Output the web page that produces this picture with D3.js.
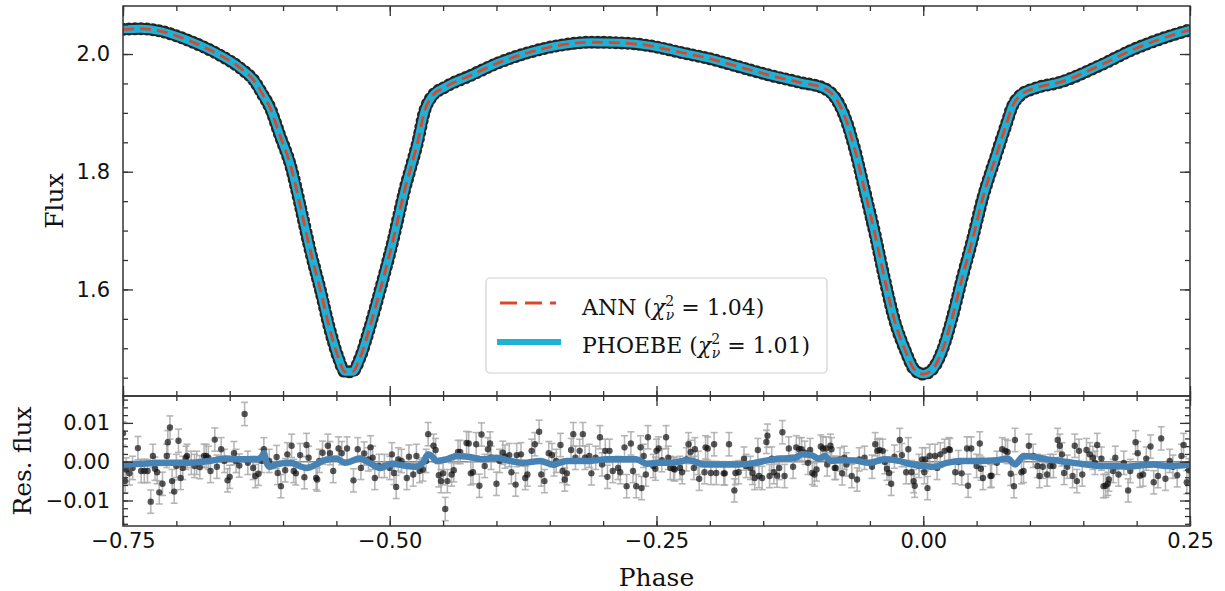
<!DOCTYPE html>
<html>
<head>
<meta charset="utf-8">
<script src="https://cdn.jsdelivr.net/npm/d3@7"></script>
<style>
  body { margin: 0; background: #fff; }
  text { fill: #111; }
</style>
</head>
<body>
<div id="chart"></div>
<script>
// light curve model (PHOEBE and ANN overlap)
var modelPhase = [-0.750,-0.734,-0.715,-0.697,-0.678,-0.659,-0.640,-0.626,-0.620,-0.612,-0.603,-0.593,-0.584,-0.575,-0.565,-0.556,-0.548,-0.542,-0.535,-0.528,-0.519,-0.509,-0.498,-0.486,-0.474,-0.467,-0.460,-0.448,-0.425,-0.397,-0.369,-0.340,-0.312,-0.284,-0.256,-0.228,-0.200,-0.172,-0.144,-0.116,-0.092,-0.083,-0.073,-0.064,-0.055,-0.045,-0.036,-0.027,-0.017,-0.008,0.000,0.008,0.018,0.027,0.036,0.046,0.056,0.067,0.077,0.084,0.091,0.105,0.128,0.166,0.197,0.228,0.250];
var modelFlux = [2.042,2.043,2.039,2.029,2.015,1.998,1.976,1.952,1.934,1.908,1.862,1.811,1.743,1.670,1.599,1.531,1.483,1.460,1.460,1.483,1.534,1.599,1.675,1.769,1.849,1.905,1.929,1.944,1.963,1.986,2.003,2.015,2.020,2.019,2.014,2.003,1.992,1.978,1.964,1.952,1.941,1.927,1.891,1.837,1.769,1.692,1.616,1.548,1.497,1.463,1.456,1.463,1.497,1.551,1.616,1.684,1.757,1.820,1.876,1.913,1.930,1.942,1.952,1.981,2.008,2.029,2.041];

// residual points (flux units of 1e-3)
var resPhase = [-0.750,-0.748,-0.747,-0.744,-0.741,-0.736,-0.733,-0.730,-0.727,-0.724,-0.722,-0.720,-0.718,-0.716,-0.713,-0.709,-0.708,-0.706,-0.704,-0.702,-0.700,-0.698,-0.696,-0.694,-0.691,-0.690,-0.686,-0.683,-0.681,-0.678,-0.674,-0.672,-0.670,-0.668,-0.664,-0.662,-0.658,-0.655,-0.652,-0.650,-0.646,-0.644,-0.641,-0.636,-0.633,-0.628,-0.626,-0.623,-0.620,-0.618,-0.613,-0.606,-0.605,-0.602,-0.598,-0.596,-0.592,-0.590,-0.588,-0.584,-0.580,-0.578,-0.576,-0.569,-0.568,-0.566,-0.563,-0.558,-0.556,-0.553,-0.548,-0.545,-0.540,-0.534,-0.530,-0.527,-0.524,-0.520,-0.518,-0.516,-0.514,-0.510,-0.505,-0.500,-0.498,
  -0.496,-0.494,-0.492,-0.489,-0.484,-0.482,-0.478,-0.475,-0.472,-0.469,-0.466,-0.464,-0.459,-0.457,-0.454,-0.452,-0.450,-0.448,-0.446,-0.442,-0.440,-0.436,-0.434,-0.428,-0.426,-0.424,-0.422,-0.419,-0.416,-0.414,-0.411,-0.408,-0.406,-0.405,-0.400,-0.397,-0.394,-0.392,-0.388,-0.386,-0.382,-0.381,-0.377,-0.373,-0.371,-0.367,-0.364,-0.360,-0.358,-0.355,-0.351,-0.348,-0.346,-0.344,-0.340,-0.338,-0.336,-0.334,-0.330,-0.328,-0.326,-0.322,-0.319,-0.317,-0.313,-0.311,-0.307,-0.303,-0.301,-0.298,-0.296,-0.294,-0.291,-0.286,-0.284,-0.280,-0.278,-0.274,-0.272,-0.269,-0.265,-0.264,-0.262,-0.260,-0.258,-0.253,-0.250,-0.248,
  -0.251,-0.245,-0.241,-0.239,-0.237,-0.234,-0.233,-0.228,-0.226,-0.222,-0.220,-0.218,-0.215,-0.214,-0.211,-0.210,-0.205,-0.204,-0.202,-0.199,-0.196,-0.194,-0.187,-0.186,-0.182,-0.177,-0.176,-0.173,-0.168,-0.166,-0.162,-0.160,-0.158,-0.155,-0.154,-0.151,-0.147,-0.146,-0.144,-0.142,-0.140,-0.137,-0.135,-0.132,-0.130,-0.126,-0.122,-0.119,-0.116,-0.114,-0.111,-0.108,-0.106,-0.104,-0.102,-0.100,-0.096,-0.094,-0.091,-0.090,-0.087,-0.086,-0.083,-0.082,-0.078,-0.076,-0.074,-0.072,-0.067,-0.062,-0.060,-0.055,-0.048,-0.045,-0.043,-0.041,-0.038,-0.036,-0.034,-0.032,-0.030,-0.027,-0.022,-0.020,-0.016,-0.014,-0.011,-0.009,-0.008,-0.004,-0.001,0.001,
  0.002,0.004,0.006,0.011,0.013,0.016,0.020,0.024,0.025,0.030,0.033,0.036,0.041,0.042,0.045,0.050,0.053,0.054,0.056,0.063,0.064,0.069,0.074,0.077,0.079,0.082,0.085,0.086,0.092,0.094,0.099,0.103,0.107,0.109,0.112,0.116,0.119,0.122,0.126,0.128,0.130,0.132,0.135,0.140,0.142,0.144,0.146,0.149,0.153,0.156,0.159,0.161,0.163,0.167,0.169,0.171,0.173,0.174,0.178,0.180,0.183,0.188,0.192,0.194,0.199,0.201,0.203,0.206,0.209,0.213,0.216,0.220,0.223,0.227,0.231,0.234,0.238,0.242,0.244,0.247,0.249];
var resValue = [7.3,-5.0,-2.0,-3.0,-1.6,3.5,-2.4,-2.4,-2.4,-10.3,1.5,-1.8,-2.7,-7.9,-5.7,1.5,5.0,8.8,-5.0,-7.7,-1.1,5.4,-4.2,-1.6,1.0,1.5,-0.3,-1.1,-0.3,-1.4,1.5,1.5,1.0,-2.4,5.7,-1.3,3.2,0.2,-4.8,-3.9,2.2,0.2,-1.0,12.3,-0.3,-1.6,-3.7,-3.1,0.2,3.2,0.2,1.2,-2.9,-6.3,-2.2,1.9,4.1,-2.4,-3.0,1.7,-4.0,4.3,1.0,-4.2,-4.6,0.2,2.3,4.1,2.2,-2.4,3.4,2.2,3.4,-4.8,3.2,-1.6,2.1,0.6,3.7,1.0,-4.2,-1.1,-1.1,-1.6,1.9,
  -2.9,-6.5,0.6,0.2,-4.2,1.3,-3.3,1.5,-2.4,-2.0,0.2,7.1,4.1,3.0,-3.5,-5.0,-3.0,-12.2,-5.0,-3.3,-2.2,2.5,2.5,4.8,4.7,-3.0,-2.7,4.5,-6.2,7.0,-1.1,3.2,4.7,1.0,-5.7,0.2,2.3,1.3,1.7,-2.7,-5.9,1.7,1.9,-4.2,-3.3,2.8,4.5,7.7,-3.3,-5.0,2.2,1.7,-0.7,0.2,4.3,-2.4,-4.6,-3.0,3.0,7.1,1.0,2.8,7.1,1.0,1.5,-3.0,1.0,6.3,-0.7,2.8,-3.9,2.8,-2.4,-1.6,-2.7,3.7,-6.3,4.7,-2.4,-6.3,3.7,-6.8,1.5,-3.3,6.3,-1.1,2.8,3.4,
  -1.8,0.4,6.3,1.0,-1.6,-1.8,-2.0,-1.6,-2.7,0.6,4.5,2.5,-1.6,3.2,-0.3,-4.4,-2.7,3.7,3.4,-2.9,4.5,-2.9,-3.0,-3.0,4.5,-7.4,-2.9,-2.7,0.8,-1.1,-1.6,-2.9,-4.2,3.0,-3.7,-4.2,5.1,6.7,-3.7,0.8,-2.7,-3.6,-1.6,7.6,-3.7,3.4,-1.3,3.7,3.2,3.2,2.3,-0.3,3.0,-2.9,-3.3,-2.0,3.9,3.4,3.4,-0.7,4.1,3.2,-1.6,-1.6,0.6,-3.0,1.0,-0.7,-3.7,-4.6,0.6,1.0,-1.3,4.5,2.8,3.0,2.8,-0.1,-1.8,-2.9,-5.7,1.3,5.6,1.7,-2.7,3.2,-2.7,-5.0,-6.2,-1.1,0.6,-2.7,
  0.6,-6.8,1.5,1.5,-1.6,1.9,2.8,3.2,3.0,-2.7,-0.1,-3.0,3.4,-6.2,3.4,-1.1,4.7,-1.8,-4.2,-3.7,-3.6,-0.3,3.2,2.8,2.5,-3.1,-6.3,5.6,-2.7,-2.4,4.1,1.5,-1.1,-3.7,-1.3,-3.3,-1.1,-1.1,5.6,4.1,1.9,-2.9,-1.3,-3.7,4.1,-5.0,2.8,-3.3,3.0,1.9,1.0,-0.3,4.3,0.8,-6.3,-6.2,-5.7,-4.6,-2.4,1.0,-3.3,-0.3,-7.4,-2.4,5.0,2.2,-3.6,-3.3,0.8,3.9,-5.3,-3.7,6.0,-4.4,0.2,-1.3,-3.5,1.5,4.3,-5.3,-2.2];
var resError = 3.0;

// smoothed residual trend (1e-3)
var trendPhase = [-0.750,-0.731,-0.709,-0.688,-0.669,-0.653,-0.638,-0.625,-0.620,-0.618,-0.616,-0.613,-0.606,-0.594,-0.578,-0.569,-0.563,-0.550,-0.542,-0.528,-0.519,-0.509,-0.498,-0.487,-0.476,-0.469,-0.464,-0.461,-0.456,-0.447,-0.437,-0.425,-0.412,-0.400,-0.387,-0.375,-0.359,-0.347,-0.334,-0.312,-0.297,-0.281,-0.269,-0.259,-0.247,-0.236,-0.220,-0.205,-0.189,-0.173,-0.158,-0.145,-0.133,-0.120,-0.114,-0.105,-0.098,-0.092,-0.087,-0.076,-0.064,-0.051,-0.036,-0.023,-0.011,0.001,0.010,0.022,0.035,0.053,0.069,0.079,0.086,0.094,0.103,0.116,0.128,0.141,0.153,0.166,0.178,0.191,0.203,0.216,0.228,0.250];
var trendValue = [-0.7,-0.5,-0.3,-0.3,0.2,0.8,0.6,0.6,1.3,2.2,0.2,-1.3,-0.7,-0.3,-1.6,-0.7,0.2,0.8,-0.3,0.8,-0.3,-1.6,-0.5,-1.0,-1.3,-0.3,1.9,1.5,0.2,0.6,1.5,1.2,0.6,1.0,0.2,-0.3,0.2,-0.7,0.2,0.2,0.6,0.6,0.6,-0.5,-0.3,-0.3,0.4,-0.7,-0.7,-0.7,-0.3,0.4,0.8,1.0,1.9,1.7,0.8,1.5,0.2,0.4,0.3,-0.3,0.6,0.2,-0.7,-1.1,-1.3,-0.3,0.2,0.2,0.4,0.8,-0.7,1.5,1.3,0.6,0.2,-0.3,-0.7,-1.1,-1.1,-1.3,-1.0,-0.7,-1.1,-0.7];

var xTicks = [-0.75, -0.50, -0.25, 0.00, 0.25];
var fluxTicks = [1.6, 1.8, 2.0];
var resTicks = [-10, 0, 10];

var W = 1225, H = 591;
var left = 123, right = 1190, top1 = 6, bot1 = 396, bot2 = 526;
var blue = "#1fb1d6", red = "#d9482b", steel = "#4682b4", spine = "#333";

var svg = d3.select("#chart").append("svg")
  .attr("width", W).attr("height", H)
  .style("font-family", "DejaVu Sans");

var x = d3.scaleLinear().domain([-0.75, 0.25]).range([left, right]);
var y1 = d3.scaleLinear().domain([1.4189, 2.0816]).range([bot1, top1]);
var y2 = d3.scaleLinear().domain([-16.57, 16.93]).range([bot2, bot1]);

svg.append("clipPath").attr("id", "c1").append("rect")
  .attr("x", left).attr("y", top1).attr("width", right - left).attr("height", bot1 - top1);
svg.append("clipPath").attr("id", "c2").append("rect")
  .attr("x", left).attr("y", bot1).attr("width", right - left).attr("height", bot2 - bot1);

// ---- top panel ----
var model = d3.zip(modelPhase, modelFlux);
var line1 = d3.line().x(d => x(d[0])).y(d => y1(d[1])).curve(d3.curveMonotoneX);
var g1 = svg.append("g").attr("clip-path", "url(#c1)");

// observed points (beads along the light curve)
g1.append("path").datum(model)
  .attr("fill", "none").attr("stroke", "#0d0d0d").attr("stroke-opacity", 0.9)
  .attr("stroke-width", 13).attr("stroke-linecap", "round")
  .attr("stroke-dasharray", "0 6").attr("d", line1);
// PHOEBE
g1.append("path").datum(model)
  .attr("fill", "none").attr("stroke", blue)
  .attr("stroke-width", 8).attr("stroke-linejoin", "round").attr("d", line1);
// ANN
g1.append("path").datum(model)
  .attr("fill", "none").attr("stroke", red)
  .attr("stroke-width", 2.8).attr("stroke-dasharray", "11,6").attr("d", line1);

// ---- residual panel ----
var res = d3.zip(resPhase, resValue);
var g2 = svg.append("g").attr("clip-path", "url(#c2)");

g2.append("line").attr("x1", left).attr("x2", right)
  .attr("y1", y2(0)).attr("y2", y2(0))
  .attr("stroke", "#888").attr("stroke-width", 1.5);

var eb = g2.append("g").attr("stroke", "#aaa").attr("stroke-width", 1.6).attr("stroke-opacity", 0.85);
eb.selectAll(".v").data(res).join("line")
  .attr("x1", d => x(d[0])).attr("x2", d => x(d[0]))
  .attr("y1", d => y2(d[1] - resError)).attr("y2", d => y2(d[1] + resError));
eb.selectAll(".t").data(res).join("line")
  .attr("x1", d => x(d[0]) - 3.5).attr("x2", d => x(d[0]) + 3.5)
  .attr("y1", d => y2(d[1] + resError)).attr("y2", d => y2(d[1] + resError));
eb.selectAll(".b").data(res).join("line")
  .attr("x1", d => x(d[0]) - 3.5).attr("x2", d => x(d[0]) + 3.5)
  .attr("y1", d => y2(d[1] - resError)).attr("y2", d => y2(d[1] - resError));

g2.selectAll("circle").data(res).join("circle")
  .attr("cx", d => x(d[0])).attr("cy", d => y2(d[1]))
  .attr("r", 3.2).attr("fill", "#111").attr("fill-opacity", 0.7);

var trend = d3.zip(trendPhase, trendValue);
g2.append("path").datum(trend)
  .attr("fill", "none").attr("stroke", steel).attr("stroke-width", 6.5)
  .attr("stroke-linejoin", "round").attr("stroke-linecap", "round")
  .attr("d", d3.line().x(d => x(d[0])).y(d => y2(d[1])).curve(d3.curveMonotoneX));

// ---- axes ----
function styleAxis(g) {
  g.select(".domain").remove();
  g.selectAll(".tick line").attr("stroke", spine).attr("stroke-width", 1.3);
  g.selectAll(".tick text").attr("fill", "#111").style("font-size", "21px").style("font-family", "DejaVu Sans");
}
function minorRange(a, b, s) { return d3.range(Math.round(a / s), Math.round(b / s) + 1).map(i => +(i * s).toFixed(4)); }

var xMinor = minorRange(-0.75, 0.25, 0.05);
[[bot1, false], [bot2, true]].forEach(function (p) {
  svg.append("g").attr("transform", "translate(0," + p[0] + ")")
    .call(d3.axisBottom(x).tickValues(xMinor).tickSize(-5).tickFormat("")).call(styleAxis);
  svg.append("g").attr("transform", "translate(0," + p[0] + ")")
    .call(d3.axisBottom(x).tickValues(xTicks).tickSize(-10).tickPadding(7)
      .tickFormat(p[1] ? d3.format(".2f") : "")).call(styleAxis);
});
[top1, bot1].forEach(function (yy) {
  svg.append("g").attr("transform", "translate(0," + yy + ")")
    .call(d3.axisTop(x).tickValues(xMinor).tickSize(-5).tickFormat("")).call(styleAxis);
  svg.append("g").attr("transform", "translate(0," + yy + ")")
    .call(d3.axisTop(x).tickValues(xTicks).tickSize(-10).tickFormat("")).call(styleAxis);
});

var fMinor = minorRange(1.45, 2.05, 0.05);
var rMinor = minorRange(-16, 16, 2);
svg.append("g").attr("transform", "translate(" + left + ",0)")
  .call(d3.axisLeft(y1).tickValues(fMinor).tickSize(-5).tickFormat("")).call(styleAxis);
svg.append("g").attr("transform", "translate(" + left + ",0)")
  .call(d3.axisLeft(y1).tickValues(fluxTicks).tickSize(-10).tickPadding(13).tickFormat(d3.format(".1f"))).call(styleAxis);
svg.append("g").attr("transform", "translate(" + right + ",0)")
  .call(d3.axisRight(y1).tickValues(fMinor).tickSize(-5).tickFormat("")).call(styleAxis);
svg.append("g").attr("transform", "translate(" + right + ",0)")
  .call(d3.axisRight(y1).tickValues(fluxTicks).tickSize(-10).tickFormat("")).call(styleAxis);

svg.append("g").attr("transform", "translate(" + left + ",0)")
  .call(d3.axisLeft(y2).tickValues(rMinor).tickSize(-5).tickFormat("")).call(styleAxis);
svg.append("g").attr("transform", "translate(" + left + ",0)")
  .call(d3.axisLeft(y2).tickValues(resTicks).tickSize(-10).tickPadding(13)
    .tickFormat(d => d3.format(".2f")(d / 1000))).call(styleAxis);
svg.append("g").attr("transform", "translate(" + right + ",0)")
  .call(d3.axisRight(y2).tickValues(rMinor).tickSize(-5).tickFormat("")).call(styleAxis);
svg.append("g").attr("transform", "translate(" + right + ",0)")
  .call(d3.axisRight(y2).tickValues(resTicks).tickSize(-10).tickFormat("")).call(styleAxis);

// frames
[[top1, bot1], [bot1, bot2]].forEach(function (p) {
  svg.append("rect").attr("x", left).attr("y", p[0])
    .attr("width", right - left).attr("height", p[1] - p[0])
    .attr("fill", "none").attr("stroke", spine).attr("stroke-width", 1.5);
});

// axis labels
var serif = "DejaVu Serif";
svg.append("text").attr("transform", "translate(63," + (top1 + bot1) / 2 + ") rotate(-90)")
  .attr("text-anchor", "middle").style("font-family", serif).style("font-size", "25px").text("Flux");
svg.append("text").attr("transform", "translate(31," + (bot1 + bot2) / 2 + ") rotate(-90)")
  .attr("text-anchor", "middle").style("font-family", serif).style("font-size", "25px").text("Res. flux");
svg.append("text").attr("x", (left + right) / 2).attr("y", 586)
  .attr("text-anchor", "middle").style("font-family", serif).style("font-size", "25px").text("Phase");

// legend
var lg = svg.append("g");
lg.append("rect").attr("x", 486).attr("y", 278).attr("width", 341).attr("height", 95)
  .attr("rx", 4).attr("fill", "#fff").attr("fill-opacity", 0.85)
  .attr("stroke", "#d0d0d0").attr("stroke-width", 1.2);
lg.append("line").attr("x1", 500).attr("x2", 556).attr("y1", 303).attr("y2", 303)
  .attr("stroke", red).attr("stroke-width", 2.8).attr("stroke-dasharray", "17,8");
lg.append("line").attr("x1", 497).attr("x2", 561).attr("y1", 342).attr("y2", 342)
  .attr("stroke", blue).attr("stroke-width", 6);

function legendText(yy, name, val) {
  var t = lg.append("text").attr("x", 582).attr("y", yy)
    .style("font-family", serif).style("font-size", "22px");
  t.append("tspan").text(name + " (");
  t.append("tspan").style("font-style", "italic").text("χ");
  t.append("tspan").attr("dy", -9).style("font-size", "14px").text("2");
  t.append("tspan").attr("dx", -8.5).attr("dy", 14).style("font-size", "14px").style("font-style", "italic").text("ν");
  t.append("tspan").attr("dy", -5).text(" = " + val + ")");
}
legendText(315, "ANN", "1.04");
legendText(353, "PHOEBE", "1.01");
</script>
</body>
</html>
